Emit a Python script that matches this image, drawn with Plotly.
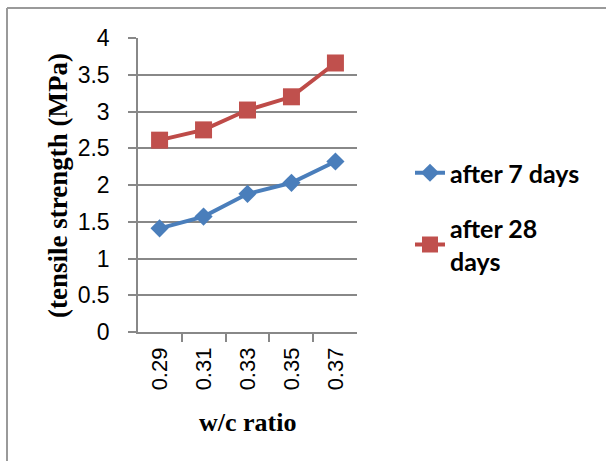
import plotly.graph_objects as go

wc_ratio = ["0.29", "0.31", "0.33", "0.35", "0.37"]
after_7_days = [1.41, 1.57, 1.88, 2.03, 2.32]
after_28_days = [2.61, 2.75, 3.02, 3.20, 3.66]
y_ticks = [0, 0.5, 1, 1.5, 2, 2.5, 3, 3.5, 4]
y_tick_labels = ["0", "0.5", "1", "1.5", "2", "2.5", "3", "3.5", "4"]

W, H = 606, 461
ML, MR, MT, MB = 138, 249, 38, 129
PW, PH = W - ML - MR, H - MT - MB

def px_x(px):
    return (px - ML) / PW

def px_y(py):
    return (H - MB - py) / PH

fig = go.Figure()
fig.add_trace(go.Scatter(
    x=wc_ratio, y=after_7_days, name="after 7 days", mode="lines+markers",
    line=dict(color="#4A7EBB", width=4),
    marker=dict(symbol="diamond", size=14, color="#4A7EBB"),
    legendgroup="a",
))
fig.add_trace(go.Scatter(
    x=wc_ratio, y=after_28_days, name="after 28<br>days", mode="lines+markers",
    line=dict(color="#BE4B48", width=4),
    marker=dict(symbol="square", size=17, color="#C0504D"),
    legendgroup="b",
))

grid = "#888888"
fig.update_layout(
    width=W, height=H,
    margin=dict(l=ML, r=MR, t=MT, b=MB),
    paper_bgcolor="white", plot_bgcolor="white",
    showlegend=True,
    legend=dict(
        x=px_x(410), y=px_y(150), xanchor="left", yanchor="top",
        font=dict(family="Lato", size=25, color="black", weight="bold"),
        tracegroupgap=20, bgcolor="rgba(0,0,0,0)",
    ),
    xaxis=dict(
        type="category", showgrid=False, showline=True, linecolor=grid, linewidth=1.5,
        ticks="outside", tickson="boundaries", ticklen=8, tickcolor=grid, tickwidth=1.5,
        tickangle=-90, tickfont=dict(family="Liberation Sans", size=22, color="black"),
        ticklabelstandoff=5, zeroline=False,
    ),
    yaxis=dict(
        range=[0, 4], tickvals=y_ticks, ticktext=y_tick_labels,
        showgrid=True, gridcolor=grid, gridwidth=1.5,
        showline=True, linecolor=grid, linewidth=1.5,
        ticks="outside", ticklen=8, tickcolor=grid, tickwidth=1.5,
        tickfont=dict(family="Liberation Sans", size=23, color="black"),
        ticklabelstandoff=14, zeroline=False,
    ),
    annotations=[
        dict(text="<b>(tensile strength (MPa)</b>", xref="paper", yref="paper",
             x=px_x(58), y=px_y(186), textangle=-90, showarrow=False,
             xanchor="center", yanchor="middle",
             font=dict(family="Liberation Serif", size=27, color="black")),
        dict(text="<b>w/c ratio</b>", xref="paper", yref="paper",
             x=px_x(247), y=px_y(422), showarrow=False,
             xanchor="center", yanchor="middle",
             font=dict(family="Liberation Serif", size=26, color="black")),
    ],
    shapes=[
        dict(type="line", xref="paper", yref="paper",
             x0=px_x(7), x1=px_x(620), y0=px_y(8), y1=px_y(8),
             line=dict(color="#9a9a9a", width=2)),
        dict(type="line", xref="paper", yref="paper",
             x0=px_x(7), x1=px_x(7), y0=px_y(8), y1=px_y(480),
             line=dict(color="#9a9a9a", width=2)),
    ],
)

fig.write_html("out.html")
